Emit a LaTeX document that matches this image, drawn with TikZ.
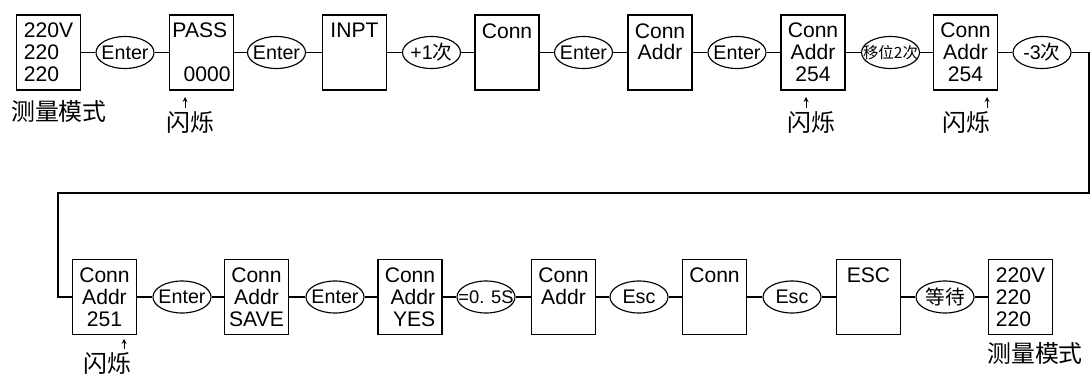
\documentclass[tikz,border=0pt]{standalone}
\usepackage{fontspec}
\setmainfont{Liberation Sans}
\newfontfamily\cjk{Noto Sans CJK SC}
\usetikzlibrary{shapes.geometric}

\tikzset{
  disp/.style={draw,line width=0.9pt,minimum width=1.6cm,minimum height=1.875cm,inner sep=1pt,align=center,font=\fontsize{15pt}{15.5pt}\selectfont},
  key/.style={draw,ellipse,line width=0.8pt,minimum width=1.45cm,minimum height=0.8cm,inner xsep=-6pt,inner ysep=0pt,font=\fontsize{14pt}{15.5pt}\selectfont},
  note/.style={inner sep=0pt,font=\fontsize{17pt}{18pt}\selectfont\cjk},
  blink/.style={-stealth,line width=0.6pt,shorten <=2pt},
  wire/.style={line width=0.8pt}
}

\begin{document}
\begin{tikzpicture}[x=0.025cm,y=-0.025cm]
\useasboundingbox (0,0) rectangle (1091,374);
%\draw[thin,gray] (0,0) grid[step=50] (1091,374);

% top row
\node[disp,align=left] (b1) at (48.5,52.5) {220V\\220\\220};
\node[key] (k1) at (125,52.5) {Enter};
\node[disp] (b2) at (201.5,52.5) {\makebox[1.45cm][l]{PASS}\\~\\\makebox[1.45cm][r]{0000}};
\node[key] (k2) at (276.5,52.5) {Enter};
\node[disp] (b3) at (354.5,52.5) {INPT\\~\\~};
\node[key] (k3) at (431.5,52.5) {+1{\cjk 次}};
\node[disp] (b4) at (507,52.5) {Conn\\~\\~};
\node[key] (k4) at (583.5,52.5) {Enter};
\node[disp] (b5) at (660,52.5) {Conn\\Addr\\~};
\node[key] (k5) at (737,52.5) {Enter};
\node[disp] (b6) at (813,52.5) {Conn\\Addr\\254};
\node[key] (k6) at (890.5,52.5) {\fontsize{11pt}{12pt}\cjk 移位2次};
\node[disp] (b7) at (965.5,52.5) {Conn\\Addr\\254};
\node[key] (k7) at (1042,52.5) {-3{\cjk 次}};

\draw[wire] (b1) -- (k1) -- (b2) -- (k2) -- (b3) -- (k3) -- (b4) -- (k4) -- (b5) -- (k5) -- (b6) -- (k6) -- (b7) -- (k7);

% bottom row
\node[disp] (c1) at (104.5,297) {Conn\\Addr\\251};
\node[key] (m1) at (182,297) {Enter};
\node[disp] (c2) at (256.5,297) {Conn\\Addr\\SAVE};
\node[key] (m2) at (335,297) {Enter};
\node[disp,align=right] (c3) at (410,297) {Conn\\Addr\\YES};
\node[key] (m3) at (486,297) {\fontsize{13pt}{14pt}\selectfont =0. 5S};
\node[disp] (c4) at (563.5,297) {Conn\\Addr\\~};
\node[key] (m4) at (639,297) {Esc};
\node[disp] (c5) at (714.5,297) {Conn\\~\\~};
\node[key] (m5) at (792,297) {Esc};
\node[disp] (c6) at (868.5,297) {ESC\\~\\~};
\node[key] (m6) at (945,297) {\cjk 等待};
\node[disp,align=left] (c7) at (1020.5,297) {220V\\220\\220};

\draw[wire] (c1) -- (m1) -- (c2) -- (m2) -- (c3) -- (m3) -- (c4) -- (m4) -- (c5) -- (m5) -- (c6) -- (m6) -- (c7);

% return line
\coordinate (turnR) at (1089,193);
\coordinate (turnL) at (58,193);
\draw[wire] (k7) -| (turnR) -- (turnL) |- (c1);

% labels
\node[note] (t1) at (59,111) {测量模式};
\node[note] (t2) at (1035,353) {测量模式};
\node[note] (f1) at (190,122) {闪烁};
\node[note] (f2) at (811,122) {闪烁};
\node[note] (f3) at (966,122) {闪烁};
\node[note] (f4) at (107,363) {闪烁};

\coordinate (p1) at (185,97);
\coordinate (p2) at (806,97);
\coordinate (p3) at (987,97);
\coordinate (p4) at (124,339);
\draw[blink] (f1.north -| p1) -- (p1);
\draw[blink] (f2.north -| p2) -- (p2);
\draw[blink] (f3.north -| p3) -- (p3);
\draw[blink] (f4.north -| p4) -- (p4);
\end{tikzpicture}
\end{document}
